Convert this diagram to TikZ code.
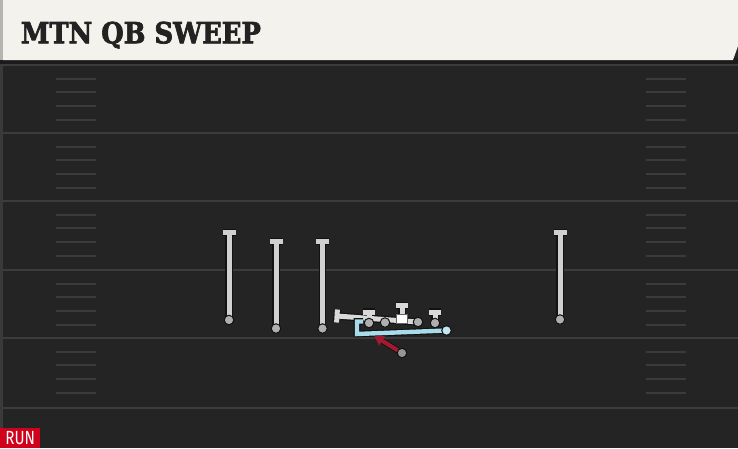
\documentclass[tikz,border=0pt]{standalone}
\usepackage{fontspec}
\newfontfamily\titlefont{DejaVu Serif}[UprightFont={* Bold}, FakeBold=2.5]
\newfontfamily\runfont{Fira Sans}
\usetikzlibrary{arrows.meta,calc}
\definecolor{fieldbg}{HTML}{242424}
\definecolor{bandc}{HTML}{1B1B1B}
\definecolor{cream}{HTML}{F4F2EC}
\definecolor{hedge}{HTML}{B4B4B0}
\definecolor{titlecol}{HTML}{222222}
\definecolor{yardc}{HTML}{3C3C3C}
\definecolor{hashc}{HTML}{3B3B3B}
\definecolor{routegray}{HTML}{D0D0D0}
\definecolor{blockgray}{HTML}{D9D9D9}
\definecolor{dotgray}{HTML}{AFAFAF}
\definecolor{sweepblue}{HTML}{A9DCEA}
\definecolor{sweepdot}{HTML}{C4E7F1}
\definecolor{motionred}{HTML}{A01A30}
\definecolor{runred}{HTML}{D0021B}
\definecolor{leftedge}{HTML}{3A3A3A}
\definecolor{outlc}{HTML}{121212}
\tikzset{
  yard/.style={draw=yardc, line width=2.4pt},
  hash/.style={draw=hashc, line width=2pt},
  outl/.style={draw=outlc, line width=7.4pt},
  rt/.style={draw=routegray, line width=5pt},
  blk/.style={draw=blockgray, line width=5pt},
  sweepout/.style={draw=outlc, line width=6.6pt, line join=miter},
  sweep/.style={draw=sweepblue, line width=4.4pt, line join=miter},
  dotn/.style={circle, fill=dotgray, draw=outlc, line width=1pt, minimum size=9.5pt, inner sep=0pt},
  centern/.style={rectangle, fill=white, draw=black!60, line width=0.8pt, minimum width=10.5pt, minimum height=8.5pt, inner sep=0pt},
}
\begin{document}
\begin{tikzpicture}[x=1pt,y=-1pt]
\useasboundingbox (0,0) rectangle (738,448);
% field
\fill[fieldbg] (0,0) rectangle (738,448);
\fill[bandc] (0,58) rectangle (738,64);
\fill[leftedge] (0,64) rectangle (2.5,448);
% header
\fill[cream] (3,0) -- (738,0) -- (738,46) -- (733,60) -- (3,60) -- cycle;
\fill[hedge] (0,0) rectangle (3,60);
\node[anchor=base west, inner sep=0pt, text=titlecol] (title) at (20.7,43.3)
  {\resizebox{240pt}{21.6pt}{\titlefont MTN QB SWEEP}};
% yard lines
\foreach \yy in {65,133,201,270,338,408} \draw[yard] (2.5,\yy) -- (738,\yy);
% hash marks
\foreach \bb in {65,133,201,270,338} {
  \foreach \k in {1,...,4} {
    \draw[hash] (56,\bb+\k*13.7) -- (96,\bb+\k*13.7);
    \draw[hash] (646,\bb+\k*13.7) -- (686,\bb+\k*13.7);
  }
}
% receivers
\foreach \n/\xx/\tt/\bb in {ra/229/232.5/320, rb/276/241.5/328.5, rc/322.5/241.5/328.5, rd/560/232.5/319.5} {
  \coordinate (\n t) at (\xx,\tt);
  \coordinate (\n b) at (\xx,\bb);
  \coordinate (\n l) at (\xx-6.5,\tt);
  \coordinate (\n r) at (\xx+6.5,\tt);
  \draw[outl] (\n b) -- (\n t);
  \draw[outl] (\n l) -- (\n r);
  \draw[rt] (\n b) -- (\n t);
  \draw[rt] (\n l) -- (\n r);
  \node[dotn] (\n d) at (\n b) {};
}
% offensive line blocks
\coordinate (lt) at (369,323);   \coordinate (ltt) at (369,312);
\coordinate (ltl) at (363,312);  \coordinate (ltr) at (375,312);
\coordinate (lg) at (385,322.5);
\coordinate (cc) at (402,319);   \coordinate (cct) at (402,305.5);
\coordinate (ccl) at (396,305.5);\coordinate (ccr) at (408,305.5);
\coordinate (rg) at (418,322);
\coordinate (rgend) at (337,316);
\coordinate (rgbt) at (337.4,309.5); \coordinate (rgbb) at (336.6,322.5);
\coordinate (rtk) at (435,323);  \coordinate (rtt) at (435,312);
\coordinate (rtl) at (429,312);  \coordinate (rtr) at (441,312);
\draw[outl] (lt) -- (ltt);  \draw[outl] (ltl) -- (ltr);
\draw[outl] (cc) -- (cct);  \draw[outl] (ccl) -- (ccr);
\draw[outl] (rtk) -- (rtt); \draw[outl] (rtl) -- (rtr);
\draw[outl] (rg) -- (rgend); \draw[outl] (rgbt) -- (rgbb);
\draw[blk] (lt) -- (ltt);  \draw[blk] (ltl) -- (ltr);
\draw[blk] (cc) -- (cct);  \draw[blk] (ccl) -- (ccr);
\draw[blk] (rtk) -- (rtt); \draw[blk] (rtl) -- (rtr);
\draw[blk] (rg) -- (rgend); \draw[blk] (rgbt) -- (rgbb);
% QB sweep route
\coordinate (qs) at (446.5,330.5);
\coordinate (s1) at (357,334);
\coordinate (s2) at (357,321.5);
\coordinate (s3) at (363,321.5);
\draw[sweepout] (qs) -- (s1) -- (s2) -- (s3);
\draw[sweep] (qs) -- (s1) -- (s2) -- (s3);
% linemen markers
\node[dotn] (ltd) at (lt) {};
\node[dotn] (lgd) at (lg) {};
\node[dotn] (rgd) at (rg) {};
\node[dotn] (rtd) at (rtk) {};
\node[centern] (center) at (cc) {};
\node[dotn, fill=sweepdot] (qsd) at (qs) {};
% motion arrow
\coordinate (mstart) at (402,353);
\coordinate (mend) at (374.5,336);
\coordinate (mmid) at ($(mstart)!0.72!(mend)$);
\draw[draw=outlc, line width=6pt] (mstart) -- (mmid);
\draw[draw=motionred, line width=4.2pt, -{Triangle[length=9pt,width=11pt]}] (mstart) -- (mend);
\node[dotn, fill=dotgray!85!black] (md) at (mstart) {};
% RUN tag
\node[fill=runred, text=white, anchor=south west, minimum width=40pt, minimum height=20pt, inner sep=0pt,
      font=\runfont\fontsize{19}{19}\selectfont] (run) at (0,448) {\scalebox{0.8}[1]{RUN}};
\end{tikzpicture}
\end{document}
